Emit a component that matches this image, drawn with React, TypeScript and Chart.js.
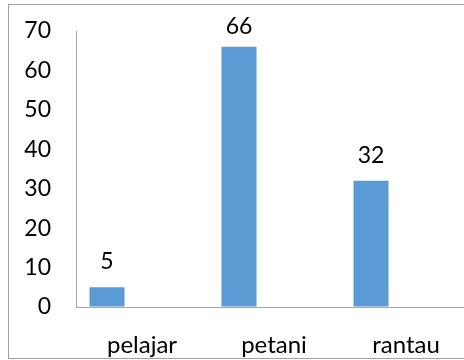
import React, { useEffect, useRef } from 'react';
import { Chart, registerables } from 'chart.js';

Chart.register(...registerables);

const categories = ['pelajar', 'petani', 'rantau'];
const values = [5, 66, 32];
const emptySeriesA: (number | null)[] = [null, null, null];
const emptySeriesB: (number | null)[] = [null, null, null];
const yMin = 0;
const yMax = 70;
const yStep = 10;

const FONT = 'Lato';
const BAR_COLOR = '#5B9BD5';
const AXIS_COLOR = '#A6A6A6';

const framePlugin = {
  id: 'frame',
  beforeDraw(chart: any) {
    const ctx = chart.ctx;
    ctx.save();
    ctx.fillStyle = '#ffffff';
    ctx.fillRect(0, 0, chart.width, chart.height);
    ctx.strokeStyle = '#A0A0A0';
    ctx.lineWidth = 1;
    ctx.strokeRect(8.5, 4.5, 478, 354);
    ctx.restore();
  },
};

const valueLabelPlugin = {
  id: 'valueLabels',
  afterDatasetsDraw(chart: any) {
    const ctx = chart.ctx;
    const meta = chart.getDatasetMeta(0);
    const data = chart.data.datasets[0].data;
    const top = chart.chartArea.top;
    ctx.save();
    ctx.font = `23px ${FONT}`;
    ctx.fillStyle = '#000000';
    ctx.textAlign = 'center';
    ctx.textBaseline = 'alphabetic';
    meta.data.forEach((el: any, i: number) => {
      const v = data[i];
      if (v === null || v === undefined) return;
      ctx.fillText(String(v), el.x, Math.max(el.y - 18, top + 3));
    });
    ctx.restore();
  },
};

export default function App() {
  const canvasRef = useRef<HTMLCanvasElement | null>(null);

  useEffect(() => {
    if (!canvasRef.current) return;
    const chart = new Chart(canvasRef.current, {
      type: 'bar',
      data: {
        labels: categories,
        datasets: [
          { data: values, backgroundColor: BAR_COLOR, borderWidth: 0 },
          { data: emptySeriesA, backgroundColor: BAR_COLOR, borderWidth: 0 },
          { data: emptySeriesB, backgroundColor: BAR_COLOR, borderWidth: 0 },
        ],
      },
      options: {
        animation: false,
        responsive: false,
        devicePixelRatio: 1,
        categoryPercentage: 105 / 132,
        barPercentage: 1,
        layout: { padding: { top: 31, right: 18, left: 0, bottom: 0 } },
        plugins: {
          legend: { display: false },
          tooltip: { enabled: false },
        },
        scales: {
          x: {
            offset: true,
            grid: { display: false, drawTicks: false },
            border: { display: true, color: AXIS_COLOR, width: 1 },
            ticks: {
              color: '#000000',
              font: { family: FONT, size: 24 },
              padding: 24,
              maxRotation: 0,
            },
            afterFit(scale: any) {
              scale.height = 53;
            },
          },
          y: {
            min: yMin,
            max: yMax,
            grid: {
              display: true,
              drawOnChartArea: false,
              drawTicks: true,
              tickLength: 25,
              color: 'rgba(0,0,0,0)',
            },
            border: { display: true, color: AXIS_COLOR, width: 1 },
            ticks: {
              stepSize: yStep,
              color: '#000000',
              font: { family: FONT, size: 23 },
              padding: 0,
            },
            afterFit(scale: any) {
              scale.width = 76;
            },
          },
        },
      } as any,
      plugins: [framePlugin, valueLabelPlugin],
    });
    return () => chart.destroy();
  }, []);

  return (
    <div
      style={{
        position: 'absolute',
        left: 0,
        top: 0,
        width: 464,
        height: 360,
        overflow: 'hidden',
        background: '#ffffff',
      }}
    >
      <canvas ref={canvasRef} width={490} height={360} style={{ display: 'block' }} />
    </div>
  );
}
